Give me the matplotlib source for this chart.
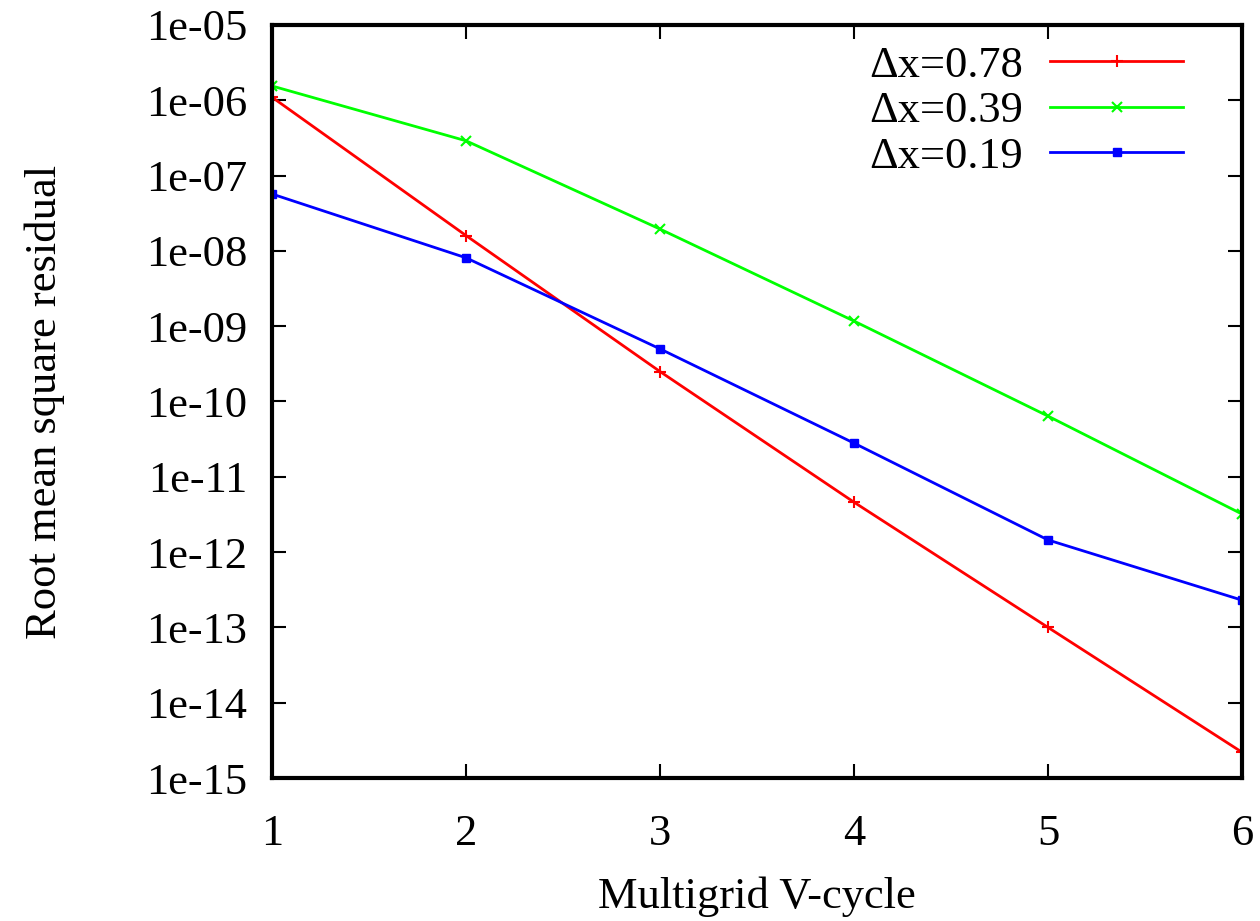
import matplotlib
matplotlib.use('Agg')
import matplotlib.pyplot as plt
from matplotlib.ticker import FixedLocator, NullLocator

plt.rcParams['font.family'] = ['Liberation Serif', 'DejaVu Serif']

cycles = [1, 2, 3, 4, 5, 6]
res_078 = [1.1e-6, 1.6e-8, 2.5e-10, 4.6e-12, 1.0e-13, 2.2e-15]
res_039 = [1.55e-6, 2.9e-7, 1.95e-8, 1.17e-9, 6.4e-11, 3.2e-12]
res_019 = [5.7e-8, 8.1e-9, 5.0e-10, 2.8e-11, 1.45e-12, 2.3e-13]
labels = ['\u0394x=0.78', '\u0394x=0.39', '\u0394x=0.19']
y_ticks = [10.0 ** e for e in range(-15, -4)]
y_ticklabels = ['1e-%02d' % -e for e in range(-15, -4)]

fs = 32

fig = plt.figure(figsize=(12.6, 9.21), dpi=100)
ax = fig.add_axes([272 / 1260, 1 - 778 / 921, 970 / 1260, 753 / 921])

ax.plot(cycles, res_078, color='#ff0000', lw=2, marker='+', ms=9, mew=1.5, label=labels[0])
ax.plot(cycles, res_039, color='#00ff00', lw=2, marker='x', ms=7, mew=1.5, label=labels[1])
ax.plot(cycles, res_019, color='#0000ff', lw=2, marker='s', ms=6, label=labels[2])

ax.set_yscale('log')
ax.set_xlim(1, 6)
ax.set_ylim(1e-15, 1e-5)
ax.set_xticks(cycles)
ax.set_xticklabels([str(c) for c in cycles])
ax.yaxis.set_major_locator(FixedLocator(y_ticks))
ax.yaxis.set_minor_locator(NullLocator())
ax.set_yticklabels(y_ticklabels)

ax.tick_params(direction='in', length=10, width=1.5, labelsize=fs,
               top=True, right=True, pad=18)
ax.tick_params(axis='x', pad=26)
for s in ax.spines.values():
    s.set_linewidth(3)

ax.set_xlabel('Multigrid V-cycle', fontsize=fs, labelpad=16)
ax.set_ylabel('Root mean square residual', fontsize=fs, labelpad=58)

ax.legend(loc='upper right', frameon=False, markerfirst=False, fontsize=fs,
          handlelength=3.0, handletextpad=0.6, labelspacing=0.12,
          borderaxespad=0.2, bbox_to_anchor=(0.967, 1.008))

fig.savefig('out.png', dpi=100)
